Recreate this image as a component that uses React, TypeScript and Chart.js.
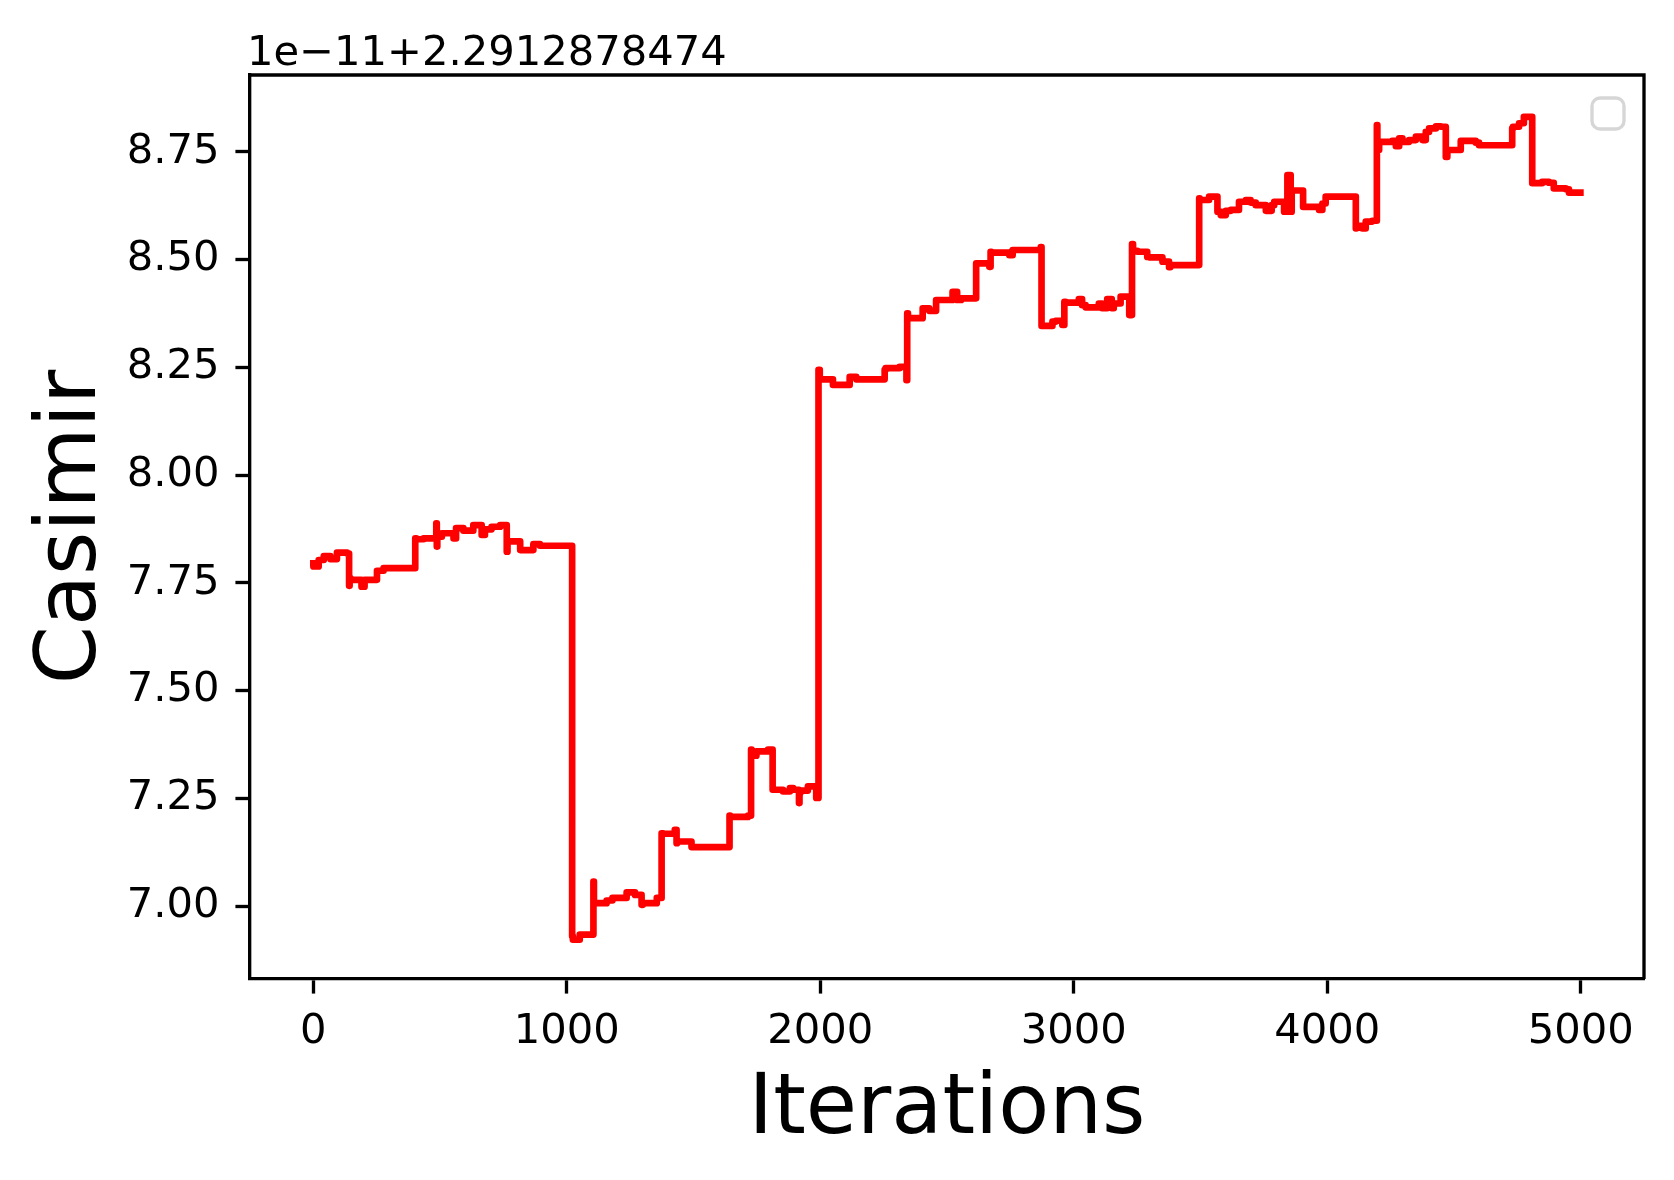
import { useEffect, useRef } from "react";
import { Chart, registerables } from "chart.js";

Chart.register(...registerables);

// iteration number of each sampled point
const iterations = [
  0, 21, 41, 67, 93, 133, 141, 143, 146, 190, 202, 212, 251, 277, 293, 402, 406, 435, 474, 485,
  487, 489, 493, 507, 553, 563, 592, 631, 664, 677, 703, 737, 763, 766, 770, 816, 821, 868, 894, 920,
  1021, 1024, 1035, 1051, 1091, 1105, 1107, 1111, 1157, 1180, 1203, 1236, 1269, 1295, 1300, 1355, 1374, 1380, 1426, 1433,
  1435, 1492, 1518, 1642, 1644, 1715, 1727, 1729, 1748, 1794, 1812, 1815, 1853, 1880, 1893, 1916, 1918, 1921, 1951, 1984,
  1993, 1998, 2005, 2050, 2057, 2116, 2142, 2254, 2258, 2313, 2340, 2343, 2346, 2404, 2430, 2457, 2490, 2522, 2540, 2556,
  2601, 2615, 2617, 2667, 2672, 2675, 2746, 2759, 2766, 2870, 2873, 2877, 2916, 2929, 2955, 2963, 2968, 3020, 3033, 3047,
  3099, 3112, 3132, 3150, 3158, 3185, 3219, 3230, 3234, 3251, 3290, 3297, 3350, 3376, 3381, 3389, 3495, 3497, 3534, 3567,
  3580, 3600, 3620, 3652, 3679, 3698, 3718, 3758, 3781, 3791, 3830, 3843, 3856, 3860, 3865, 3905, 3909, 3968, 3981, 3994,
  4008, 4113, 4115, 4139, 4152, 4178, 4196, 4198, 4205, 4218, 4257, 4271, 4284, 4297, 4323, 4350, 4376, 4389, 4402, 4429,
  4448, 4468, 4474, 4481, 4527, 4530, 4586, 4599, 4619, 4730, 4733, 4757, 4776, 4809, 4816, 4848, 4875, 4894, 4914, 4941,
  4954, 4999,
];

// Casimir value, shown relative to the offset 2.2912878474 (units of 1e-11)
const casimir = [
  7.795, 7.788, 7.803, 7.812, 7.805, 7.82, 7.818, 7.743, 7.761, 7.757, 7.741, 7.757, 7.757, 7.778, 7.784, 7.784, 7.853, 7.851, 7.853, 7.853,
  7.888, 7.834, 7.857, 7.857, 7.865, 7.853, 7.877, 7.871, 7.884, 7.861, 7.874, 7.88, 7.884, 7.822, 7.846, 7.846, 7.826, 7.826, 7.84, 7.836,
  7.836, 6.93, 6.922, 6.922, 6.934, 6.934, 7.057, 7.007, 7.007, 7.013, 7.019, 7.019, 7.032, 7.026, 7.003, 7.007, 7.019, 7.169, 7.168, 7.177,
  7.146, 7.15, 7.137, 7.137, 7.21, 7.207, 7.21, 7.363, 7.349, 7.359, 7.363, 7.27, 7.27, 7.266, 7.274, 7.27, 7.239, 7.262, 7.268, 7.278,
  7.251, 8.244, 8.222, 8.222, 8.209, 8.209, 8.228, 8.222, 8.244, 8.248, 8.251, 8.22, 8.375, 8.364, 8.387, 8.381, 8.406, 8.406, 8.425, 8.406,
  8.41, 8.41, 8.491, 8.491, 8.483, 8.518, 8.516, 8.51, 8.522, 8.522, 8.529, 8.346, 8.346, 8.356, 8.358, 8.348, 8.402, 8.4, 8.408, 8.394,
  8.389, 8.398, 8.387, 8.408, 8.387, 8.398, 8.414, 8.371, 8.536, 8.52, 8.518, 8.506, 8.505, 8.495, 8.482, 8.487, 8.487, 8.642, 8.638, 8.646,
  8.611, 8.603, 8.613, 8.615, 8.634, 8.638, 8.632, 8.626, 8.613, 8.626, 8.634, 8.611, 8.696, 8.611, 8.66, 8.66, 8.622, 8.622, 8.615, 8.63,
  8.646, 8.646, 8.572, 8.578, 8.572, 8.588, 8.59, 8.812, 8.754, 8.773, 8.773, 8.775, 8.763, 8.781, 8.773, 8.777, 8.785, 8.777, 8.796, 8.804,
  8.809, 8.808, 8.738, 8.754, 8.754, 8.775, 8.775, 8.771, 8.765, 8.765, 8.804, 8.808, 8.816, 8.831, 8.677, 8.677, 8.68, 8.678, 8.665, 8.665,
  8.663, 8.655,
];

const xTicks = [0, 1000, 2000, 3000, 4000, 5000];
const yTicks = [7.0, 7.25, 7.5, 7.75, 8.0, 8.25, 8.5, 8.75];
const offsetText = "1e\u221211+2.2912878474";

const FONT = "DejaVu Sans";
const PT = 300 / 72; // figure was saved at 300 dpi

// top/right spines, offset text and the empty legend frame
const decorations = {
  id: "decorations",
  afterDatasetsDraw(chart: any) {
    const { ctx, chartArea } = chart;
    const { left, top, right, bottom } = chartArea;
    ctx.save();
    ctx.strokeStyle = "#000";
    ctx.lineWidth = 0.8 * PT;
    ctx.beginPath();
    ctx.moveTo(left, top);
    ctx.lineTo(right, top);
    ctx.lineTo(right, bottom);
    ctx.stroke();

    ctx.fillStyle = "#000";
    ctx.font = `${10 * PT}px "${FONT}"`;
    ctx.textAlign = "left";
    ctx.textBaseline = "alphabetic";
    ctx.fillText(offsetText, left - 3, top - 10);

    // empty legend box
    ctx.fillStyle = "rgba(255,255,255,0.8)";
    ctx.strokeStyle = "rgba(204,204,204,0.8)";
    ctx.lineWidth = 0.8 * PT;
    ctx.beginPath();
    ctx.roundRect(right - 52, top + 23, 32, 31, 8);
    ctx.fill();
    ctx.stroke();
    ctx.restore();
  },
};

export default function App() {
  const canvasRef = useRef<HTMLCanvasElement>(null);

  useEffect(() => {
    if (!canvasRef.current) return;
    const chart = new Chart(canvasRef.current, {
      type: "line",
      data: {
        datasets: [
          {
            data: iterations.map((it, i) => ({ x: it, y: casimir[i] })),
            borderColor: "#ff0000",
            borderWidth: 1.6 * PT,
            borderJoinStyle: "round",
            borderCapStyle: "square",
            stepped: "after",
            pointRadius: 0,
            fill: false,
          },
        ],
      },
      options: {
        animation: false,
        responsive: true,
        maintainAspectRatio: false,
        devicePixelRatio: 1,
        layout: { padding: { top: 75, right: 30, left: 0, bottom: 0 } },
        plugins: {
          legend: { display: false },
          tooltip: { enabled: false },
        },
        scales: {
          x: {
            type: "linear",
            min: -250,
            max: 5250,
            afterBuildTicks: (scale: any) => {
              scale.ticks = xTicks.map((v) => ({ value: v }));
            },
            afterFit: (scale: any) => {
              scale.height = 201;
            },
            ticks: {
              color: "#000",
              font: { family: FONT, size: 10 * PT },
              padding: 14,
              maxRotation: 0,
              callback: (v: any) => String(v),
            },
            grid: {
              drawOnChartArea: false,
              drawTicks: true,
              tickLength: 3.5 * PT,
              tickWidth: 0.8 * PT,
              tickColor: "#000",
            },
            border: { display: true, color: "#000", width: 0.8 * PT },
            title: {
              display: true,
              text: "Iterations",
              color: "#000",
              font: { family: FONT, size: 20 * PT },
              padding: { top: 0, bottom: 19 },
            },
          },
          y: {
            type: "linear",
            min: 6.831,
            max: 8.928,
            afterBuildTicks: (scale: any) => {
              scale.ticks = yTicks.map((v) => ({ value: v }));
            },
            afterFit: (scale: any) => {
              scale.width = 250;
            },
            ticks: {
              color: "#000",
              font: { family: FONT, size: 10 * PT },
              padding: 16,
              callback: (v: any) => Number(v).toFixed(2),
            },
            grid: {
              drawOnChartArea: false,
              drawTicks: true,
              tickLength: 3.5 * PT,
              tickWidth: 0.8 * PT,
              tickColor: "#000",
            },
            border: { display: true, color: "#000", width: 0.8 * PT },
            title: {
              display: true,
              text: "Casimir",
              color: "#000",
              font: { family: FONT, size: 20 * PT },
              padding: { top: 23, bottom: 0 },
            },
          },
        },
      },
      plugins: [decorations],
    });
    return () => chart.destroy();
  }, []);

  return (
    <div style={{ position: "absolute", left: 0, top: 0, width: 1674, height: 1180 }}>
      <canvas ref={canvasRef} />
    </div>
  );
}
